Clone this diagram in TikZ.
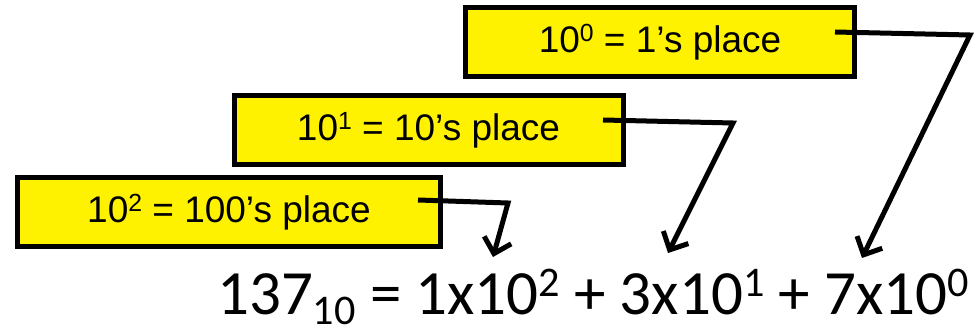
\documentclass[tikz,border=0pt]{standalone}
\usepackage{fontspec}
\setmainfont{Liberation Sans}
\newfontfamily\eqfont{Carlito}
\usepackage{graphicx}
\usepackage{tikz}
\usetikzlibrary{arrows.meta}

\newcommand{\upidx}[1]{\raisebox{0.3em}{\scalebox{0.67}{#1}}}
\newcommand{\lowidx}[1]{\raisebox{-0.15em}{\scalebox{0.67}{#1}}}

\begin{document}
\begin{tikzpicture}[x=1pt,y=-1pt,
    placebox/.style={draw,line width=5pt,fill=yellow,inner sep=0pt,minimum width=#1,minimum height=69pt,font=\fontsize{37}{40}\selectfont},
    pointer/.style={line width=5pt,-{Straight Barb[length=14pt,width=28pt]}}]
    
    \useasboundingbox (0,0) rectangle (977,336);
    \node[placebox=423pt] (p2) at (229,212) {10\upidx{2} = 100’s place};
    \node[placebox=389pt] (p1) at (428.5,130) {10\upidx{1} = 10’s place};
    \node[placebox=389pt] (p0) at (660,42.5) {10\upidx{0} = 1’s place};
    \node[anchor=base west,inner sep=0pt,font=\eqfont\fontsize{63}{70}\selectfont] (eq) at (217,315)
        {137\lowidx{10} = 1x10\upidx{2} + 3x10\upidx{1} + 7x10\upidx{0}};
    \coordinate (s2) at (418,200);
    \coordinate (k2) at (508,203);
    \coordinate (t2) at (493,257);
    \coordinate (s1) at (603,120);
    \coordinate (k1) at (733,123);
    \coordinate (t1) at (668,253);
    \coordinate (s0) at (835,32);
    \coordinate (k0) at (970,35);
    \coordinate (t0) at (862,258);
    \draw[pointer] (s2) -- (k2) -- (t2);
    \draw[pointer] (s1) -- (k1) -- (t1);
    \draw[pointer] (s0) -- (k0) -- (t0);
\end{tikzpicture}
\end{document}
